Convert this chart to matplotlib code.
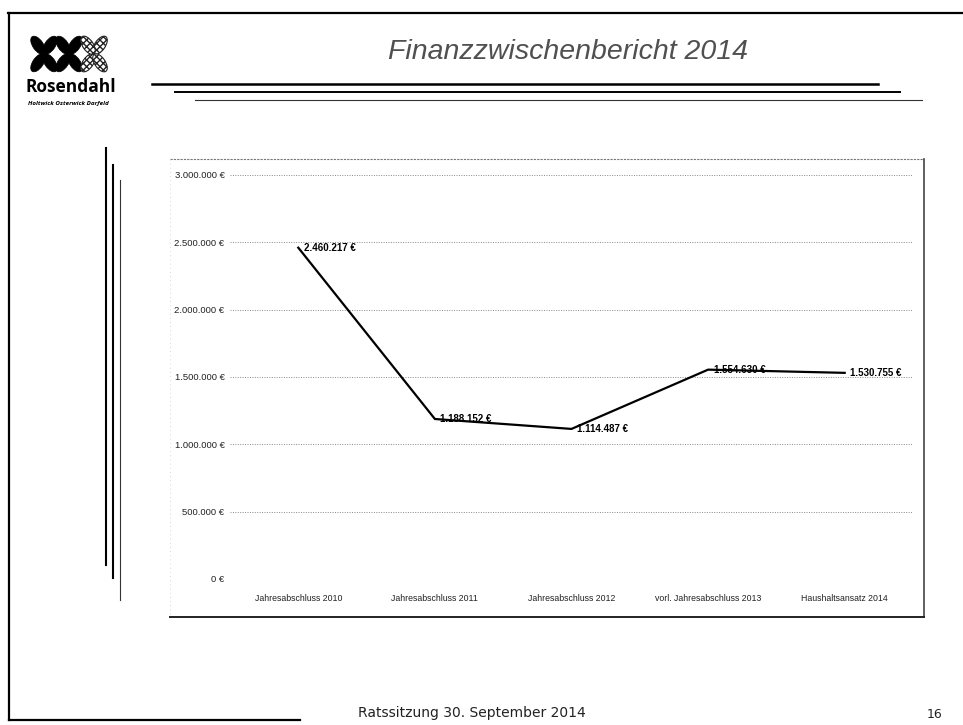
import numpy as np
import matplotlib
matplotlib.use("Agg")
import matplotlib.pyplot as plt
from matplotlib.patches import Ellipse
from matplotlib.lines import Line2D

# data
categories = ["Jahresabschluss 2010", "Jahresabschluss 2011", "Jahresabschluss 2012",
              "vorl. Jahresabschluss 2013", "Haushaltsansatz 2014"]
values = [2460217, 1188152, 1114487, 1554630, 1530755]
value_labels = ["2.460.217 €", "1.188.152 €", "1.114.487 €", "1.554.630 €", "1.530.755 €"]
y_ticks = [0, 500000, 1000000, 1500000, 2000000, 2500000, 3000000]
y_tick_labels = ["0 €", "500.000 €", "1.000.000 €", "1.500.000 €", "2.000.000 €",
                 "2.500.000 €", "3.000.000 €"]

W, H = 963, 725
fig = plt.figure(figsize=(W / 100, H / 100), dpi=100)
fig.patch.set_facecolor("white")

arial = ["Liberation Sans", "DejaVu Sans"]

# background layer in pixel coordinates (y down)
bg = fig.add_axes([0, 0, 1, 1])
bg.set_xlim(0, W)
bg.set_ylim(H, 0)
bg.axis("off")

def hline(x0, x1, y, lw, color="black", ls="-"):
    bg.add_line(Line2D([x0, x1], [y, y], lw=lw, color=color, ls=ls))

def vline(x, y0, y1, lw, color="black", ls="-"):
    bg.add_line(Line2D([x, x], [y0, y1], lw=lw, color=color, ls=ls))

# slide border (scan)
hline(8, W, 13, 1.6)
vline(9, 13, 720, 1.6)
hline(9, 300, 720, 1.6)

# header lines
hline(152, 878, 84, 1.8)
hline(175, 900, 92, 1.4)
hline(195, 922, 100, 0.8, color="#333333")

# left decorative verticals
vline(106, 148, 565, 1.5)
vline(113, 165, 578, 1.5)
vline(120, 180, 600, 0.8, color="#333333")

# logo: three X made of four leaves each
def leaf_x(cx, cy, hatched=False):
    dx, dy = 6.0, 8.8
    ang = np.degrees(np.arctan2(dy, dx))
    L = 2 * np.hypot(dx, dy) * 0.97
    w = 10.5
    for sx, sy in [(1, -1), (-1, 1), (1, 1), (-1, -1)]:
        a = ang if sx == sy else -ang
        if hatched:
            e = Ellipse((cx + sx * dx, cy + sy * dy), L, w, angle=a, facecolor="white",
                        edgecolor="#222222", hatch="xxxxx", lw=0.8)
        else:
            e = Ellipse((cx + sx * dx, cy + sy * dy), L, w, angle=a, facecolor="black",
                        edgecolor="black", lw=0.5)
        bg.add_patch(e)

leaf_x(44, 54)
leaf_x(69, 54)
leaf_x(94, 54, hatched=True)

bg.text(71, 87, "Rosendahl", ha="center", va="center", fontsize=12.5,
        fontweight="bold", family=["Open Sans", "DejaVu Sans"], color="black")
bg.text(68, 103, "Holtwick Osterwick Darfeld", ha="center", va="center", fontsize=4.5,
        fontweight="bold", style="italic", family=["Open Sans", "DejaVu Sans"], color="black")

# title
bg.text(568, 52, "Finanzzwischenbericht 2014", ha="center", va="center", fontsize=20.5,
        style="italic", family=arial, color="#505050")

# chart frame
hline(170, 924, 159, 0.8, color="#777777", ls=(0, (2, 1)))
vline(924, 159, 617, 1.2, color="#444444")
hline(170, 924, 617, 1.4, color="#222222")
vline(170, 159, 617, 0.6, color="#cccccc", ls=(0, (1, 4)))

# footer
bg.text(472, 713, "Ratssitzung 30. September 2014", ha="center", va="center",
        fontsize=10, family=["DejaVu Sans"], color="#222222")
bg.text(935, 715, "16", ha="center", va="center", fontsize=9,
        family=["DejaVu Sans"], color="#222222")

# the line chart
ax = fig.add_axes([230 / W, 1 - 579 / H, 683 / W, 404 / H])
ax.set_facecolor("none")
x = np.arange(len(categories))
ax.plot(x, values, color="black", lw=1.6, solid_joinstyle="miter")
for xi, v, lab in zip(x, values, value_labels):
    ax.annotate(lab, (xi, v), xytext=(4, 0), textcoords="offset points",
                ha="left", va="center", fontsize=7, fontweight="bold",
                family=arial, color="black")

ax.set_xlim(-0.5, len(categories) - 0.5)
ax.set_ylim(0, 3000000)
ax.set_yticks(y_ticks)
ax.set_yticklabels(y_tick_labels, family=arial, fontsize=6.8, color="#222222")
ax.set_xticks(x)
ax.set_xticklabels(categories, family=arial, fontsize=6.3, color="#222222")
ax.tick_params(axis="both", length=0)
ax.tick_params(axis="y", pad=4)
ax.tick_params(axis="x", pad=11)
ax.grid(axis="y", linestyle=(0, (1, 1.5)), color="#888888", lw=0.7)
ax.set_axisbelow(True)
for s in ax.spines.values():
    s.set_visible(False)

fig.savefig("out.png", dpi=100, facecolor="white")
